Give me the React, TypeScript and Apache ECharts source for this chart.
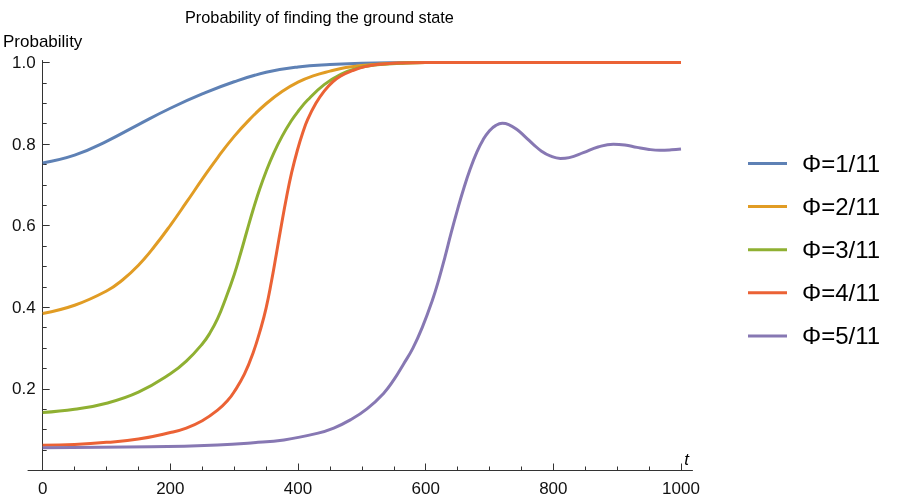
import React, { useEffect, useRef } from "react";
import * as echarts from "echarts";

const FONT = "'Liberation Sans', Arial, sans-serif";

const seriesNames = ["Φ=1/11", "Φ=2/11", "Φ=3/11", "Φ=4/11", "Φ=5/11"];
const seriesColors = ["#5E81B5", "#E19C24", "#8FB032", "#EB6235", "#8778B3"];

const t1 = [0, 50, 100, 150, 200, 250, 300, 350, 400, 450, 500, 550, 600, 700, 800, 900, 1000];
const p1 = [0.754, 0.773, 0.807, 0.848, 0.888, 0.923, 0.953, 0.976, 0.989, 0.995, 0.998, 0.9995, 1.0, 1.0, 1.0, 1.0, 1.0];

const t2 = [0, 50, 100, 125, 150, 175, 200, 225, 250, 275, 300, 325, 350, 375, 400, 425, 450, 475, 500, 550, 600, 700, 800, 900, 1000];
const p2 = [0.385, 0.405, 0.44, 0.467, 0.503, 0.549, 0.601, 0.657, 0.714, 0.769, 0.819, 0.862, 0.899, 0.929, 0.952, 0.968, 0.979, 0.988, 0.993, 0.998, 1.0, 1.0, 1.0, 1.0, 1.0];

const t3 = [0, 50, 100, 150, 200, 225, 250, 262, 274, 287, 300, 310, 320, 330, 340, 350, 362, 375, 389, 400, 415, 441, 467, 490, 520, 560, 600, 700, 800, 900, 1000];
const p3 = [0.142, 0.15, 0.165, 0.192, 0.237, 0.268, 0.31, 0.337, 0.372, 0.423, 0.48, 0.532, 0.587, 0.641, 0.69, 0.733, 0.778, 0.819, 0.856, 0.88, 0.908, 0.946, 0.971, 0.985, 0.994, 0.998, 1.0, 1.0, 1.0, 1.0, 1.0];

const t4 = [0, 50, 100, 150, 200, 225, 250, 274, 290, 300, 316, 330, 342, 350, 358, 366, 374, 382, 390, 399, 407, 415, 428, 441, 454, 467, 485, 505, 530, 560, 600, 700, 800, 900, 1000];
const p4 = [0.062, 0.064, 0.069, 0.077, 0.093, 0.104, 0.122, 0.148, 0.172, 0.193, 0.236, 0.29, 0.35, 0.398, 0.46, 0.53, 0.602, 0.67, 0.73, 0.785, 0.826, 0.86, 0.9, 0.93, 0.952, 0.967, 0.98, 0.99, 0.996, 0.999, 1.0, 1.0, 1.0, 1.0, 1.0];

const t5 = [0, 170, 274, 330, 378, 430, 456, 482, 508, 534, 550, 565, 580, 595, 610, 620, 630, 640, 650, 660, 670, 680, 690, 700, 710, 720, 730, 743, 756, 769, 782, 795, 811, 825, 847, 870, 894, 912, 931, 950, 967, 985, 1000];
const p5 = [0.056, 0.058, 0.0625, 0.068, 0.075, 0.091, 0.104, 0.124, 0.151, 0.189, 0.222, 0.26, 0.3, 0.352, 0.415, 0.465, 0.522, 0.583, 0.64, 0.693, 0.74, 0.78, 0.811, 0.833, 0.846, 0.851, 0.848, 0.836, 0.818, 0.799, 0.782, 0.771, 0.765, 0.767, 0.779, 0.793, 0.8, 0.798, 0.792, 0.787, 0.785, 0.786, 0.788];

const xMajorTicks = [0, 200, 400, 600, 800, 1000];
const xMinorTicks = [50, 100, 150, 250, 300, 350, 450, 500, 550, 650, 700, 750, 850, 900, 950];
const yMajorTicks = [0.2, 0.4, 0.6, 0.8, 1.0];
const yMinorTicks = [0.05, 0.1, 0.15, 0.25, 0.3, 0.35, 0.45, 0.5, 0.55, 0.65, 0.7, 0.75, 0.85, 0.9, 0.95];

const allT = [t1, t2, t3, t4, t5];
const allP = [p1, p2, p3, p4, p5];

export default function App() {
  const ref = useRef<HTMLDivElement>(null);
  useEffect(() => {
    if (!ref.current) return;
    const chart = echarts.init(ref.current, null, { renderer: "svg" });
    const axisColor = "#333";
    const labelColor = "#111";
    const xBase = { type: "value", gridIndex: 0, min: 0, max: 1000, position: "bottom", splitLine: { show: false } };
    const yBase = { type: "value", gridIndex: 0, min: 0, max: 1.005, position: "left", splitLine: { show: false } };
    chart.setOption({
      animation: false,
      title: {
        text: "Probability of finding the ground state",
        left: 180,
        top: 4,
        textStyle: { fontFamily: FONT, fontSize: 16.3, fontWeight: "normal", color: "#000" },
      },
      grid: [
        { left: 41.5, right: 219, top: 60.5, bottom: 29.5, containLabel: false },
        { left: 28, right: 207.5, top: 60.5, bottom: 29.5, containLabel: false },
      ],
      legend: {
        orient: "vertical",
        left: 748,
        top: 151.5,
        padding: 0,
        itemWidth: 39,
        itemHeight: 3,
        icon: "rect",
        itemGap: 19.1,
        data: seriesNames,
        textStyle: { fontFamily: FONT, fontSize: 24, lineHeight: 22, color: "#000", padding: [0, 0, 0, 10] },
      },
      xAxis: [
        {
          ...xBase,
          axisLine: { show: true, onZero: false, lineStyle: { color: axisColor, width: 1 } },
          axisTick: { show: true, inside: true, length: 7, customValues: xMajorTicks, lineStyle: { color: axisColor } },
          axisLabel: {
            show: true,
            customValues: xMajorTicks,
            margin: 9,
            fontFamily: FONT,
            fontSize: 17,
            color: labelColor,
            formatter: (v: number) => String(v),
          },
        },
        {
          ...xBase,
          axisLine: { show: false, onZero: false },
          axisTick: { show: true, inside: true, length: 4, customValues: xMinorTicks, lineStyle: { color: axisColor } },
          axisLabel: { show: false },
        },
        {
          type: "value",
          gridIndex: 1,
          min: 0,
          max: 1,
          position: "bottom",
          splitLine: { show: false },
          axisTick: { show: false },
          axisLabel: { show: false },
          axisLine: { show: true, onZero: false, lineStyle: { color: axisColor, width: 1 } },
          name: "t",
          nameLocation: "end",
          nameGap: -6,
          nameTextStyle: { fontFamily: FONT, fontSize: 17, fontStyle: "italic", color: "#000", align: "center", verticalAlign: "bottom", padding: [0, 0, 3, 0] },
        },
      ],
      yAxis: [
        {
          ...yBase,
          name: "Probability",
          nameLocation: "end",
          nameGap: 11,
          nameTextStyle: { fontFamily: FONT, fontSize: 17, color: "#000" },
          axisLine: { show: true, onZero: false, lineStyle: { color: axisColor, width: 1 } },
          axisTick: { show: true, inside: true, length: 7, customValues: yMajorTicks, lineStyle: { color: axisColor } },
          axisLabel: {
            show: true,
            customValues: yMajorTicks,
            margin: 7,
            fontFamily: FONT,
            fontSize: 17,
            color: labelColor,
            formatter: (v: number) => v.toFixed(1),
          },
        },
        {
          ...yBase,
          axisLine: { show: false, onZero: false },
          axisTick: { show: true, inside: true, length: 4, customValues: yMinorTicks, lineStyle: { color: axisColor } },
          axisLabel: { show: false },
        },
        { type: "value", gridIndex: 1, min: 0, max: 1, show: false },
      ],
      series: seriesNames.map((name, i) => ({
        name,
        type: "line",
        xAxisIndex: 0,
        yAxisIndex: 0,
        showSymbol: false,
        symbol: "none",
        smooth: 0.45,
        color: seriesColors[i],
        lineStyle: { color: seriesColors[i], width: 3 },
        data: allT[i].map((t, j) => [t, allP[i][j]]),
      })),
    });
    return () => chart.dispose();
  }, []);
  return <div ref={ref} style={{ position: "fixed", left: 0, top: 0, width: 900, height: 500 }} />;
}
